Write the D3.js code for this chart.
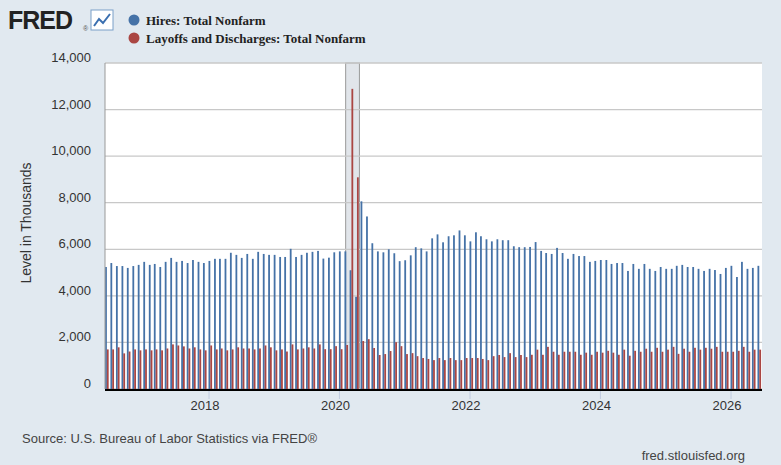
<!DOCTYPE html>
<html><head><meta charset="utf-8">
<script src="https://cdn.jsdelivr.net/npm/d3@7"></script>
<style>body{margin:0;background:#e1e9f0}</style>
</head><body>
<script>
// monthly, Jun 2016 .. Jun 2026 (thousands)
var startMonth = new Date(2016, 5, 1)
var hires = [5240,5410,5280,5280,5200,5280,5330,
 5460,5330,5370,5240,5460,5630,5460,5500,5410,5540,5460,5410,
 5500,5590,5590,5590,5850,5760,5630,5800,5590,5890,5800,5760,
 5760,5670,5670,6020,5670,5760,5850,5890,5930,5600,5640,5870,
 5910,5910,5100,3960,8060,7410,6260,5910,5870,6000,5830,5490,
 5530,5740,6090,6040,5910,6470,6640,6300,6560,6600,6810,6600,
 6340,6730,6560,6430,6340,6430,6390,6390,6130,6090,6090,6100,
 6310,5930,5840,5800,6060,5840,5590,5800,5710,5710,5460,5500,
 5540,5540,5370,5410,5410,5070,5370,5160,5370,5160,5070,5240,
 5160,5160,5290,5330,5240,5240,5160,5070,5160,5110,4940,5200,
 5290,4810,5460,5160,5200,5290]
var layoffs = [1700,1700,1790,1530,1610,1700,1660,
 1700,1660,1700,1660,1740,1915,1870,1830,1740,1790,1700,1660,
 1870,1700,1740,1660,1700,1790,1740,1740,1700,1740,1870,1790,
 1660,1700,1610,1915,1700,1740,1790,1740,1915,1710,1710,1840,
 1710,1890,12890,9090,2060,2140,1760,1460,1500,1630,2010,1840,
 1500,1540,1410,1330,1290,1240,1330,1240,1330,1240,1240,1330,
 1330,1330,1290,1240,1410,1460,1370,1540,1370,1460,1370,1470,
 1690,1470,1810,1600,1470,1600,1600,1600,1470,1560,1470,1600,
 1560,1640,1560,1470,1690,1430,1640,1600,1730,1600,1770,1600,
 1690,1810,1510,1730,1600,1770,1690,1770,1730,1810,1600,1600,
 1600,1640,1810,1600,1690,1690]
var yTicks = [0,2000,4000,6000,8000,10000,12000,14000]
var xTickYears = [2018,2020,2022,2024,2026]
var seriesNames = ["Hires: Total Nonfarm","Layoffs and Discharges: Total Nonfarm"]
var colors = ["#4572a7","#aa4643"]
var recession = [new Date(2020,1,5), new Date(2020,3,22)]

var W = 781, H = 465
var pLeft = 105, pRight = 762, pTop = 63, pBottom = 389

var svg = d3.select("body").append("svg").attr("width", W).attr("height", H)
	.style("font-family", "Arial, 'Liberation Sans', sans-serif")
svg.append("rect").attr("width", W).attr("height", H).attr("fill", "#e1e9f0")
svg.append("rect").attr("x", pLeft).attr("y", pTop).attr("width", pRight-pLeft).attr("height", pBottom-pTop).attr("fill", "#fff")

var x = d3.scaleTime().domain([new Date(2018,0,1), new Date(2026,0,1)]).range([209, 731])
var y = d3.scaleLinear().domain([0,14000]).range([pBottom, pTop])

// recession shading
svg.append("rect").attr("x", x(recession[0])).attr("y", pTop)
	.attr("width", x(recession[1]) - x(recession[0])).attr("height", pBottom-pTop)
	.attr("fill", "#e1e5ea").attr("stroke", "#999").attr("stroke-width", 1)

// grid
svg.selectAll(".grid").data(yTicks).enter().append("line")
	.attr("x1", pLeft).attr("x2", pRight)
	.attr("y1", d => y(d)).attr("y2", d => y(d))
	.attr("stroke", "#c8c8c8").attr("stroke-width", 1.3)

var months = hires.map((d, i) => new Date(startMonth.getFullYear(), startMonth.getMonth()+i, 1))

svg.selectAll(".hb").data(hires).enter().append("rect")
	.attr("x", (d, i) => x(months[i]) - 0.5).attr("width", 1.8)
	.attr("y", d => y(d)).attr("height", d => pBottom - y(d)).attr("fill", colors[0])
svg.selectAll(".lb").data(layoffs).enter().append("rect")
	.attr("x", (d, i) => x(months[i]) + 1.3).attr("width", 1.8)
	.attr("y", d => y(d)).attr("height", d => pBottom - y(d)).attr("fill", colors[1])

svg.append("line").attr("x1", pLeft).attr("x2", pLeft).attr("y1", pTop).attr("y2", pBottom).attr("stroke", "#999")
svg.append("line").attr("x1", pLeft).attr("x2", pRight).attr("y1", pBottom+1).attr("y2", pBottom+1).attr("stroke", "#000").attr("stroke-width", 2)

// y labels
svg.selectAll(".yl").data(yTicks).enter().append("text")
	.attr("x", 91).attr("y", d => y(d) - 1).attr("text-anchor", "end")
	.attr("font-size", 13).attr("fill", "#333").text(d3.format(","))

// x ticks
svg.selectAll(".xt").data(xTickYears).enter().append("line")
	.attr("x1", d => x(new Date(d,0,1))).attr("x2", d => x(new Date(d,0,1)))
	.attr("y1", pBottom+2).attr("y2", pBottom+10).attr("stroke", "#c0cce0")
svg.selectAll(".xl").data(xTickYears).enter().append("text")
	.attr("x", d => x(new Date(d,0,1)) - 4).attr("y", 410).attr("text-anchor", "middle")
	.attr("font-size", 13).attr("fill", "#333").text(d => d)

svg.append("text").attr("transform", "translate(31," + ((pTop+pBottom)/2 - 3) + ") rotate(-90)")
	.attr("text-anchor", "middle").attr("font-size", 14).attr("fill", "#333").text("Level in Thousands")

// header
svg.append("text").attr("x", 8).attr("y", 29).attr("font-size", 25).attr("font-weight", "bold")
	.attr("fill", "#222").attr("letter-spacing", -1).text("FRED")
var ic = svg.append("g").attr("transform", "translate(91,10)")
ic.append("rect").attr("width", 22).attr("height", 20).attr("fill", "#fff").attr("stroke", "#7aa0c8")
ic.append("polyline").attr("points", "3,16 8,9 12,13 19,4").attr("fill", "none").attr("stroke", "#3a6fb0").attr("stroke-width", 2)
svg.append("text").attr("x", 83).attr("y", 31).attr("font-size", 7).attr("fill", "#555").text("®")

var leg = svg.selectAll(".leg").data(seriesNames).enter().append("g")
	.attr("transform", (d, i) => "translate(134," + (20 + i*18) + ")")
leg.append("circle").attr("r", 5.5).attr("fill", (d, i) => colors[i])
leg.append("text").attr("x", 12).attr("y", 5).attr("font-family", "'Liberation Serif', serif")
	.attr("font-weight", "bold").attr("font-size", 13).attr("fill", "#222").text(d => d)

svg.append("text").attr("x", 22).attr("y", 443).attr("font-size", 13).attr("fill", "#444")
	.text("Source: U.S. Bureau of Labor Statistics via FRED®")
svg.append("text").attr("x", 745).attr("y", 460).attr("text-anchor", "end").attr("font-size", 13).attr("fill", "#444")
	.text("fred.stlouisfed.org")
</script>
</body></html>
